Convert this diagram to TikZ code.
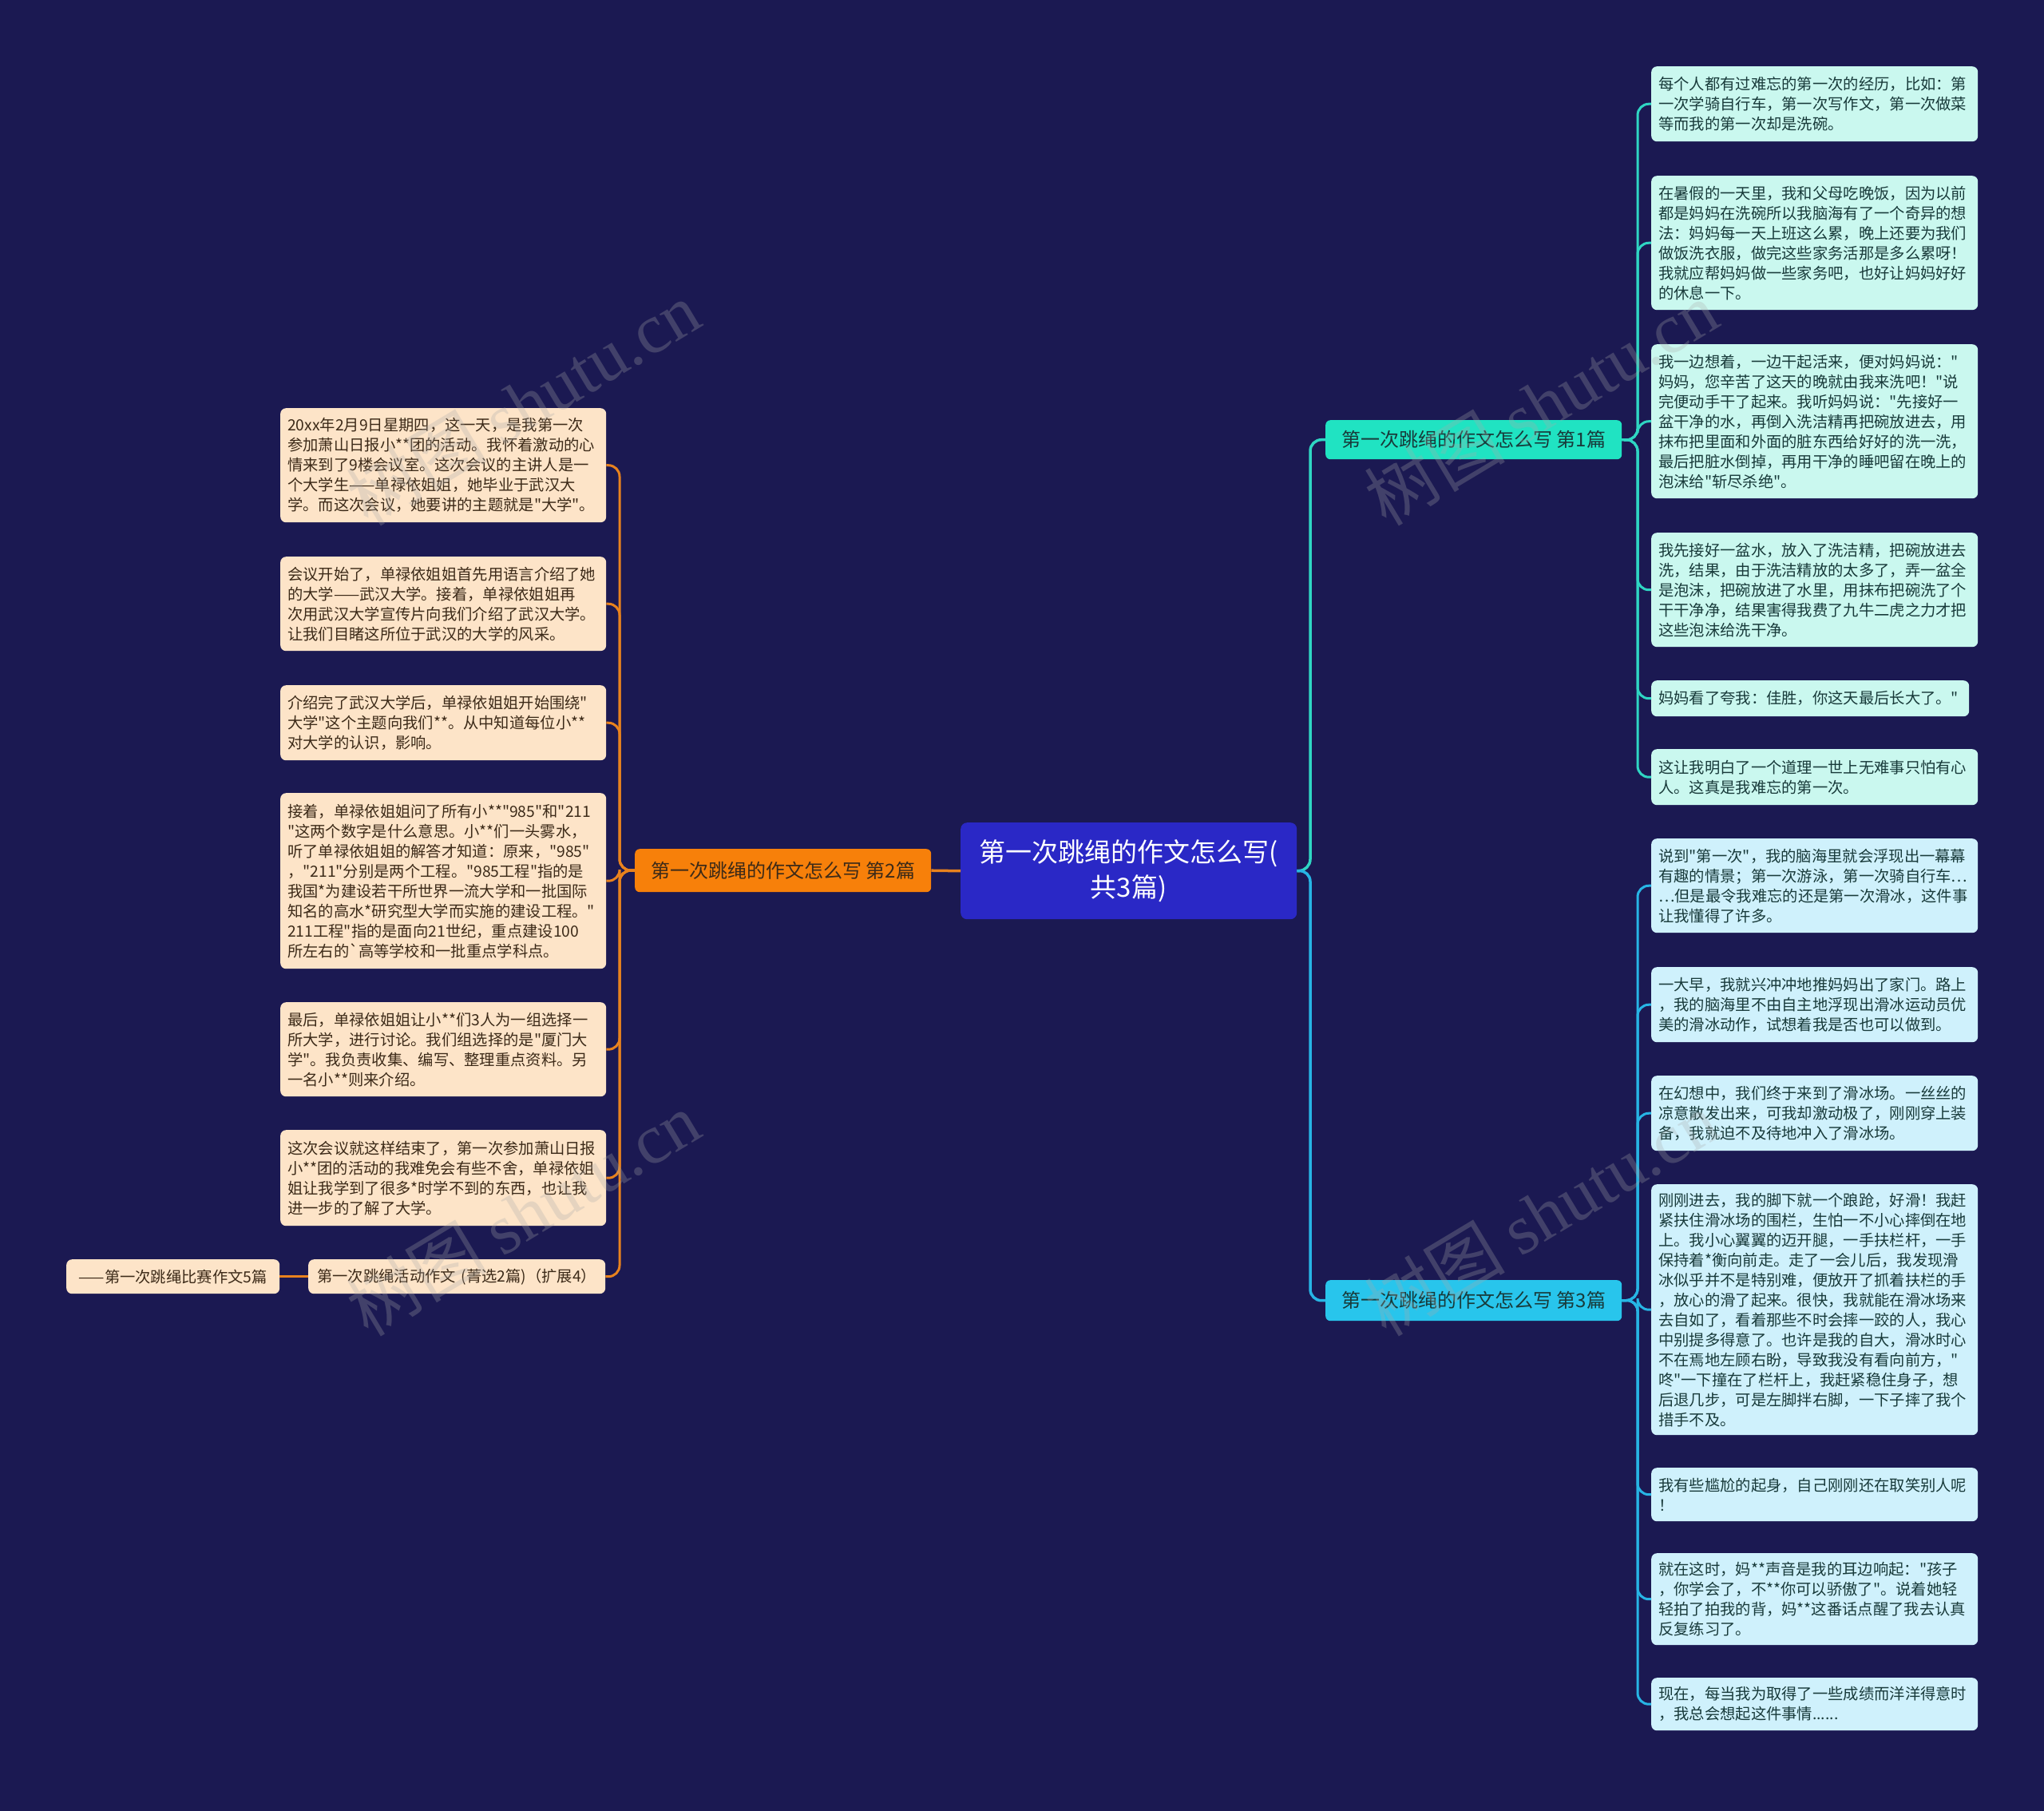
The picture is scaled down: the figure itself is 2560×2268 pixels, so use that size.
\documentclass[tikz,border=0pt]{standalone}
\usepackage{fontspec}
\setmainfont{Noto Sans CJK SC}[Ligatures=TeXOff]
\newfontfamily\wmfont{Liberation Serif}
\newfontfamily\wmcjk{Noto Sans CJK SC}
\definecolor{bgc}{RGB}{27,25,82}
\definecolor{rootc}{RGB}{42,40,198}
\definecolor{tealc}{RGB}{32,227,194}
\definecolor{cyanc}{RGB}{40,197,236}
\definecolor{orangec}{RGB}{247,128,10}
\definecolor{tealline}{RGB}{47,214,195}
\definecolor{cyanline}{RGB}{39,181,229}
\definecolor{orangeline}{RGB}{232,130,30}
\definecolor{peach}{RGB}{253,228,200}
\definecolor{mint}{RGB}{202,248,239}
\definecolor{icec}{RGB}{207,241,252}
\definecolor{brownT}{RGB}{60,42,24}
\definecolor{tealT}{RGB}{24,58,58}
\definecolor{wmc}{RGB}{170,170,170}
\begin{document}
\begin{tikzpicture}[x=1pt,y=-1pt,
  leafbase/.style={draw=none, rounded corners=7pt, anchor=north west, inner xsep=9pt, inner ysep=0pt, align=left, font=\fontsize{19.3}{25}\selectfont},
  leafL/.style={leafbase, fill=peach, text=brownT, minimum width=408pt, text width=390pt},
  leafR/.style={leafbase, fill=mint, text=tealT, minimum width=409pt, text width=391pt},
  leafS/.style={leafbase, fill=icec, text=tealT, minimum width=409pt, text width=391pt},
  branch/.style={draw=none, rounded corners=6pt, anchor=north west, inner sep=0pt, align=center, minimum width=371pt, font=\fontsize{24}{30}\selectfont},
  conn/.style={line width=3pt, rounded corners=14pt},
  wm/.style={text=wmc, text opacity=0.28, rotate=31, font=\fontsize{88}{90}\selectfont}
]
\useasboundingbox (0,0) rectangle (2560,2268);
\fill[bgc] (0,0) rectangle (2560,2268);

% root
\node[draw=none, fill=rootc, rounded corners=8pt, anchor=north west, minimum width=421pt, minimum height=121pt, inner sep=0pt, align=center, text=white, font=\fontsize{33}{44}\selectfont] (root) at (1203,1030) {第一次跳绳的作文怎么写(\\共3篇)};

% branches
\node[branch, fill=tealc, text=tealT, minimum height=49pt] (b1) at (1660,526) {第一次跳绳的作文怎么写 第1篇};
\node[branch, fill=orangec, text=brownT, minimum height=54pt] (b2) at (795,1063) {第一次跳绳的作文怎么写 第2篇};
\node[branch, fill=cyanc, text=tealT, minimum height=51pt] (b3) at (1660,1603) {第一次跳绳的作文怎么写 第3篇};

% right group 1
\node[leafR, minimum height=94pt] (r1) at (2068,83) {每个人都有过难忘的第一次的经历，比如：第\\一次学骑自行车，第一次写作文，第一次做菜\\等而我的第一次却是洗碗。};
\node[leafR, minimum height=168pt] (r2) at (2068,220) {在暑假的一天里，我和父母吃晚饭，因为以前\\都是妈妈在洗碗所以我脑海有了一个奇异的想\\法：妈妈每一天上班这么累，晚上还要为我们\\做饭洗衣服，做完这些家务活那是多么累呀！\\我就应帮妈妈做一些家务吧，也好让妈妈好好\\的休息一下。};
\node[leafR, minimum height=193pt] (r3) at (2068,431) {我一边想着，一边干起活来，便对妈妈说："\\妈妈，您辛苦了这天的晚就由我来洗吧！"说\\完便动手干了起来。我听妈妈说："先接好一\\盆干净的水，再倒入洗洁精再把碗放进去，用\\抹布把里面和外面的脏东西给好好的洗一洗，\\最后把脏水倒掉，再用干净的睡吧留在晚上的\\泡沫给"斩尽杀绝"。};
\node[leafR, minimum height=143pt] (r4) at (2068,667) {我先接好一盆水，放入了洗洁精，把碗放进去\\洗，结果，由于洗洁精放的太多了，弄一盆全\\是泡沫，把碗放进了水里，用抹布把碗洗了个\\干干净净，结果害得我费了九牛二虎之力才把\\这些泡沫给洗干净。};
\node[leafR, minimum height=45pt, minimum width=398pt, text width=380pt] (r5) at (2068,852) {妈妈看了夸我：佳胜，你这天最后长大了。"};
\node[leafR, minimum height=70pt] (r6) at (2068,938) {这让我明白了一个道理一世上无难事只怕有心\\人。这真是我难忘的第一次。};

% right group 3
\node[leafS, minimum height=118pt] (s1) at (2068,1050) {说到"第一次"，我的脑海里就会浮现出一幕幕\\有趣的情景；第一次游泳，第一次骑自行车⋯\\⋯但是最令我难忘的还是第一次滑冰，这件事\\让我懂得了许多。};
\node[leafS, minimum height=94pt] (s2) at (2068,1211) {一大早，我就兴冲冲地推妈妈出了家门。路上\\，我的脑海里不由自主地浮现出滑冰运动员优\\美的滑冰动作，试想着我是否也可以做到。};
\node[leafS, minimum height=94pt] (s3) at (2068,1347) {在幻想中，我们终于来到了滑冰场。一丝丝的\\凉意散发出来，可我却激动极了，刚刚穿上装\\备，我就迫不及待地冲入了滑冰场。};
\node[leafS, minimum height=314pt] (s4) at (2068,1483) {刚刚进去，我的脚下就一个踉跄，好滑！我赶\\紧扶住滑冰场的围栏，生怕一不小心摔倒在地\\上。我小心翼翼的迈开腿，一手扶栏杆，一手\\保持着*衡向前走。走了一会儿后，我发现滑\\冰似乎并不是特别难，便放开了抓着扶栏的手\\，放心的滑了起来。很快，我就能在滑冰场来\\去自如了，看着那些不时会摔一跤的人，我心\\中别提多得意了。也许是我的自大，滑冰时心\\不在焉地左顾右盼，导致我没有看向前方，"\\咚"一下撞在了栏杆上，我赶紧稳住身子，想\\后退几步，可是左脚拌右脚，一下子摔了我个\\措手不及。};
\node[leafS, minimum height=67pt] (s5) at (2068,1838) {我有些尴尬的起身，自己刚刚还在取笑别人呢\\！};
\node[leafS, minimum height=115pt] (s6) at (2068,1945) {就在这时，妈**声音是我的耳边响起："孩子\\，你学会了，不**你可以骄傲了"。说着她轻\\轻拍了拍我的背，妈**这番话点醒了我去认真\\反复练习了。};
\node[leafS, minimum height=66pt] (s7) at (2068,2101) {现在，每当我为取得了一些成绩而洋洋得意时\\，我总会想起这件事情......};

% left group
\node[leafL, minimum height=143pt] (l1) at (351,511) {20xx年2月9日星期四，这一天，是我第一次\\参加萧山日报小**团的活动。我怀着激动的心\\情来到了9楼会议室。这次会议的主讲人是一\\个大学生——单禄依姐姐，她毕业于武汉大\\学。而这次会议，她要讲的主题就是"大学"。};
\node[leafL, minimum height=118pt] (l2) at (351,697) {会议开始了，单禄依姐姐首先用语言介绍了她\\的大学——武汉大学。接着，单禄依姐姐再\\次用武汉大学宣传片向我们介绍了武汉大学。\\让我们目睹这所位于武汉的大学的风采。};
\node[leafL, minimum height=94pt] (l3) at (351,858) {介绍完了武汉大学后，单禄依姐姐开始围绕"\\大学"这个主题向我们**。从中知道每位小**\\对大学的认识，影响。};
\node[leafL, minimum height=220pt] (l4) at (351,993) {接着，单禄依姐姐问了所有小**"985"和"211\\"这两个数字是什么意思。小**们一头雾水，\\听了单禄依姐姐的解答才知道：原来，"985"\\，"211"分别是两个工程。"985工程"指的是\\我国*为建设若干所世界一流大学和一批国际\\知名的高水*研究型大学而实施的建设工程。"\\211工程"指的是面向21世纪，重点建设100\\所左右的`高等学校和一批重点学科点。};
\node[leafL, minimum height=118pt] (l5) at (351,1255) {最后，单禄依姐姐让小**们3人为一组选择一\\所大学，进行讨论。我们组选择的是"厦门大\\学"。我负责收集、编写、整理重点资料。另\\一名小**则来介绍。};
\node[leafL, minimum height=120pt] (l6) at (351,1415) {这次会议就这样结束了，第一次参加萧山日报\\小**团的活动的我难免会有些不舍，单禄依姐\\姐让我学到了很多*时学不到的东西，也让我\\进一步的了解了大学。};
\node[leafL, minimum height=43pt, minimum width=372pt, text width=354pt, align=center] (l7) at (386,1577) {第一次跳绳活动作文 (菁选2篇)（扩展4）};
\node[leafL, minimum height=43pt, minimum width=267pt, text width=249pt, align=center] (l8) at (83,1577) {——第一次跳绳比赛作文5篇};

% junction coordinates
\coordinate (j1) at (1641,1090);
\coordinate (k1) at (2051,551);
\coordinate (k2) at (776,1090);
\coordinate (k3) at (2051,1628);

% connectors
\draw[conn, orangeline, line width=3.5pt] (root.west) -- (b2.east);
\draw[conn, tealline, line width=3.5pt] (root.east) -- (j1) |- (b1.west);
\draw[conn, cyanline, line width=3.5pt] (root.east) -- (j1) |- (b3.west);

\foreach \n in {r1,r2,r3,r4,r5,r6} {\draw[conn, tealline] (b1.east) -- (k1) |- (\n.west);}
\foreach \n in {s1,s2,s3,s4,s5,s6,s7} {\draw[conn, cyanline] (b3.east) -- (k3) |- (\n.west);}
\foreach \n in {l1,l2,l3,l4,l5,l6,l7} {\draw[conn, orangeline] (b2.west) -- (k2) |- (\n.east);}
\draw[conn, orangeline] (l7.west) -- (l8.east);

% watermarks (on top)
\node[wm] (w1) at (655,505) {{\wmcjk 树图} {\wmfont shutu.cn}};
\node[wm] (w2) at (1930,505) {{\wmcjk 树图} {\wmfont shutu.cn}};
\node[wm] (w3) at (655,1520) {{\wmcjk 树图} {\wmfont shutu.cn}};
\node[wm] (w4) at (1930,1520) {{\wmcjk 树图} {\wmfont shutu.cn}};
\end{tikzpicture}
\end{document}
